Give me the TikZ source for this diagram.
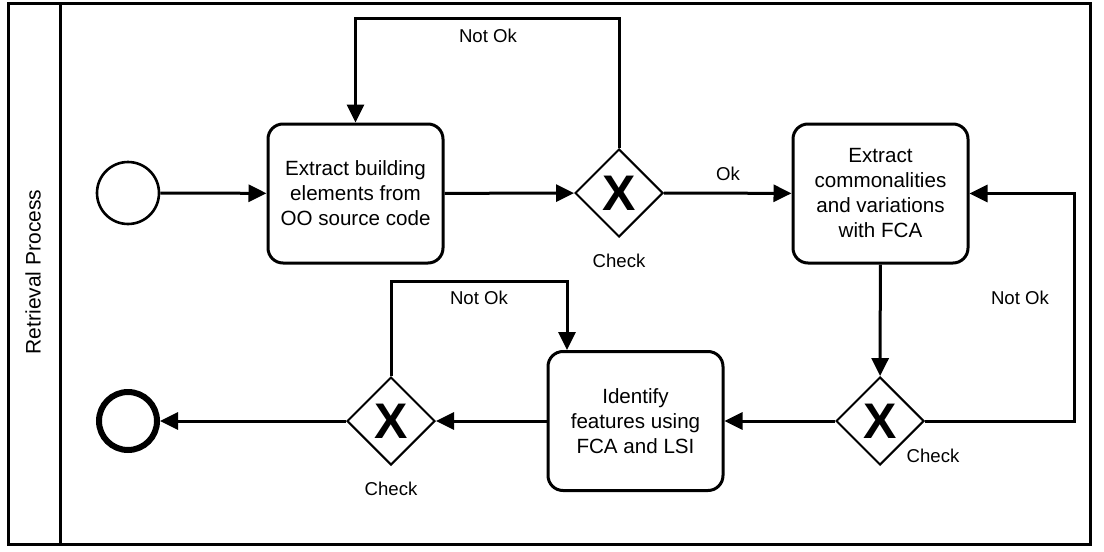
\documentclass[tikz,border=0pt]{standalone}
\usepackage{fontspec}
\setmainfont{Liberation Sans}
\usetikzlibrary{arrows.meta,shapes.geometric}
\begin{document}
\begin{tikzpicture}[x=0.5pt,y=-0.5pt,
 task/.style={draw,line width=1.5pt,rounded corners=7.5pt,minimum width=87.5pt,minimum height=69.5pt,align=center,font=\fontsize{10.3}{12.5}\selectfont,inner sep=0pt},
 gw/.style={draw,diamond,line width=1pt,minimum size=44pt,inner sep=0pt,font=\fontsize{25}{25}\selectfont\bfseries},
 flow/.style={line width=1.5pt,-{Triangle[length=9pt,width=8.5pt]}},
 lbl/.style={font=\fontsize{9.3}{11}\selectfont,inner sep=0pt}]
\useasboundingbox (0,0) rectangle (1104,552);
% pool
\draw[line width=1.5pt] (8,3) rectangle (1090,544);
\draw[line width=1.5pt] (60,3) -- (60,544);
\node[rotate=90,font=\fontsize{10.5}{12}\selectfont] (lane) at (33,272) {Retrieval Process};
% events
\node[draw,circle,line width=1.3pt,minimum size=31pt,inner sep=0pt] (start) at (128,193) {};
\node[draw,circle,line width=3pt,minimum size=29pt,inner sep=0pt] (end) at (128,421) {};
% tasks
\node[task] (t1) at (355.5,193.5) {Extract building\\elements from\\OO source code};
\node[task] (t2) at (880.5,193.5) {Extract\\commonalities\\and variations\\with FCA};
\node[task] (t3) at (635.5,421) {Identify\\features using\\FCA and LSI};
% gateways
\node[gw] (g1) at (619,193) {X};
\node[gw] (g2) at (880,421) {X};
\node[gw] (g3) at (391,421) {X};
% labels
\node[lbl] (c1) at (619,261) {Check};
\node[lbl] (c2) at (933,456) {Check};
\node[lbl] (c3) at (391,489) {Check};
\node[lbl] (ok) at (728,174) {Ok};
\node[lbl] (n1) at (488,36) {Not Ok};
\node[lbl] (n2) at (1020,298) {Not Ok};
\node[lbl] (n3) at (479,298) {Not Ok};
% coordinates
\coordinate (p1) at (619,18);
\coordinate (p2) at (1074,421);
\coordinate (p3) at (391,281);
\coordinate (p4) at (567,281);
\coordinate (t3in) at (567,350);
% flows
\draw[flow] (start) -- (t1);
\draw[flow] (t1) -- (g1);
\draw[flow] (g1.north) -- (p1) -| (t1.north);
\draw[flow] (g1) -- (t2);
\draw[flow] (t2) -- (g2);
\draw[flow] (g2.east) -- (p2) |- (t2.east);
\draw[flow] (g2) -- (t3);
\draw[flow] (t3) -- (g3);
\draw[flow] (g3.north) -- (p3) -- (p4) -- (t3in);
\draw[flow] (g3) -- (end);
\end{tikzpicture}
\end{document}
